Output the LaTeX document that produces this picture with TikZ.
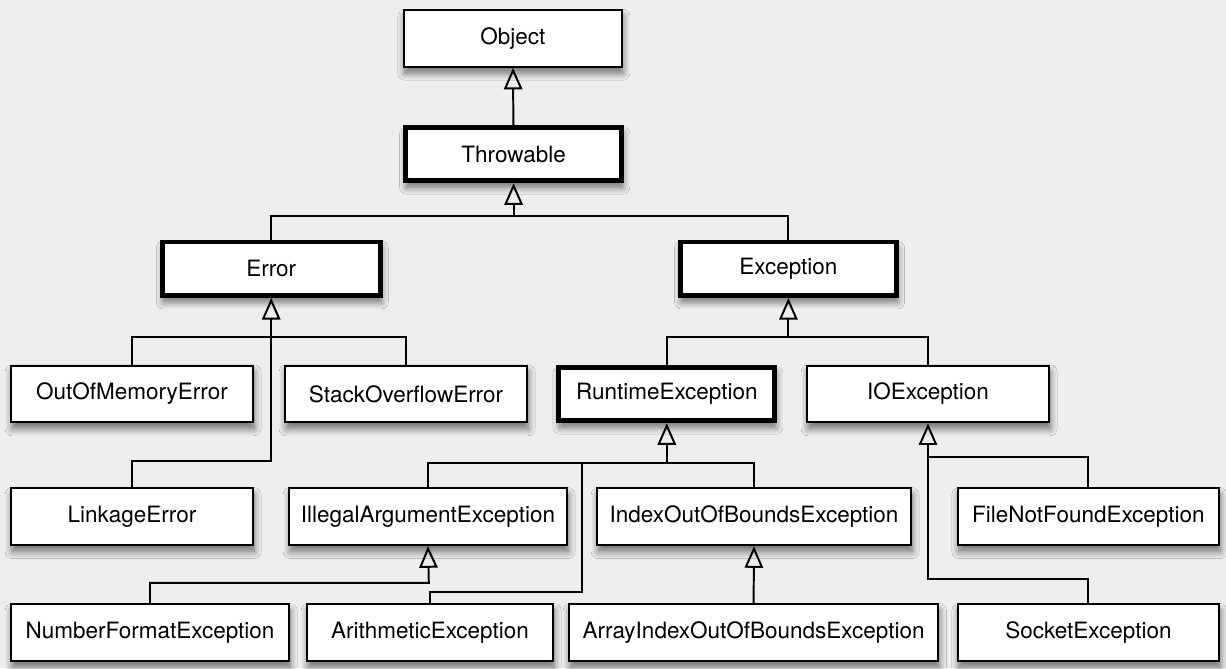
\documentclass[tikz,border=0pt]{standalone}
\usepackage{fontspec}
\setmainfont{TeX Gyre Heros}
\usepackage{xcolor}
\usepackage{tikz}
\usetikzlibrary{arrows.meta, positioning, calc, shadows.blur}
\definecolor{canvas}{HTML}{EEEEEE}

\begin{document}
\begin{tikzpicture}[
  >=Latex,
  every node/.style={font=\fontsize{16}{19}\selectfont},
  cls/.style={rectangle, draw=black, fill=white, line width=1.4pt,
    minimum height=1.42cm, inner sep=0pt, align=center,
    blur shadow={shadow xshift=0.8pt, shadow yshift=-4.5pt,
      shadow blur steps=10, shadow blur radius=5pt, shadow opacity=55}},
  keycls/.style={cls, line width=3.4pt, minimum height=1.34cm},
  inherit/.style={-{Triangle[open, length=5.4mm, width=4.6mm]}, line width=1.4pt},
  link/.style={line width=1.4pt}
]
  % Canvas
  \fill[canvas] (0,0) rectangle (30.65,-16.7);

  % Root classes
  \node[cls, minimum width=5.45cm] (object) at (12.82,-0.96) {Object};
  \node[keycls, minimum width=5.4cm] (throwable) at (12.84,-3.85) {Throwable};
  \node[keycls, minimum width=5.45cm] (error) at (6.78,-6.72) {Error};
  \node[keycls, minimum width=5.4cm] (exception) at (19.71,-6.72) {Exception};

  % Second level
  \node[cls, minimum width=6.05cm] (oom) at (3.30,-9.85) {OutOfMemoryError};
  \node[cls, minimum width=6.05cm] (stack) at (10.15,-9.85) {StackOverflowError};
  \node[keycls, minimum width=5.4cm] (runtime) at (16.67,-9.85) {RuntimeException};
  \node[cls, minimum width=6.05cm] (io) at (23.20,-9.85) {IOException};

  % Third level
  \node[cls, minimum width=6.05cm] (linkage) at (3.30,-12.92) {LinkageError};
  \node[cls, minimum width=6.95cm] (illegal) at (10.70,-12.92) {IllegalArgumentException};
  \node[cls, minimum width=7.85cm] (index) at (18.85,-12.92) {IndexOutOfBoundsException};
  \node[cls, minimum width=6.53cm] (notfound) at (27.21,-12.92) {FileNotFoundException};

  % Bottom level
  \node[cls, minimum width=6.95cm] (numfmt) at (3.75,-15.82) {NumberFormatException};
  \node[cls, minimum width=6.15cm] (arith) at (10.75,-15.82) {ArithmeticException};
  \node[cls, minimum width=9.23cm] (arrayidx) at (18.84,-15.82) {ArrayIndexOutOfBoundsException};
  \node[cls, minimum width=6.53cm] (socket) at (27.21,-15.82) {SocketException};

  % Bus points
  \coordinate (tbus) at (12.84,-5.40);
  \coordinate (ebus) at (6.78,-8.42);
  \coordinate (ebend) at (6.78,-11.52);
  \coordinate (xbus) at (19.71,-8.42);
  \coordinate (rbus) at (16.67,-11.57);
  \coordinate (abend) at (14.55,-14.80);
  \coordinate (ibend) at (10.72,-14.57);
  \coordinate (iohigh) at (23.20,-11.42);
  \coordinate (iolow) at (23.20,-14.47);

  % Top of the tree
  \draw[inherit] (throwable) -- (object);
  \draw[inherit] (tbus) -- (throwable);
  \draw[link] (error.north) |- (tbus) -| (exception.north);

  % Error branch
  \draw[link] (oom.north) |- (ebus) -| (stack.north);
  \draw[inherit] (linkage.north) |- (ebend) -- (error.south);

  % Exception branch
  \draw[link] (runtime.north) |- (xbus) -| (io.north);
  \draw[inherit] (xbus) -- (exception.south);

  % RuntimeException branch
  \draw[inherit] (rbus) -- (runtime.south);
  \draw[link] (illegal.north) |- (rbus) -| (index.north);
  \draw[link] (arith.north) |- (abend) -- (abend |- rbus);
  \draw[inherit] (numfmt.north) |- (ibend) -- (illegal.south);
  \draw[inherit] (arrayidx.north) -- (index.south);

  % IOException branch
  \draw[inherit] (socket.north) |- (iolow) -- (io.south);
  \draw[link] (notfound.north) |- (iohigh);
\end{tikzpicture}
\end{document}
